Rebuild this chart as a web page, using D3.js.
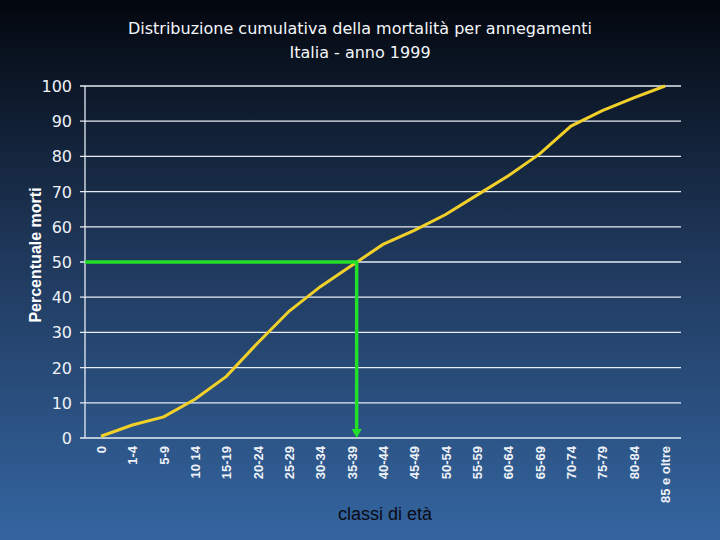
<!DOCTYPE html>
<html><head><meta charset="utf-8">
<script src="https://cdn.jsdelivr.net/npm/d3@7"></script>
<style>body{margin:0}svg{display:block}</style>
</head><body><svg width="720" height="540"></svg>
<script>
const categories = ["0","1-4","5-9","10 14","15-19","20-24","25-29","30-34","35-39","40-44","45-49","50-54","55-59","60-64","65-69","70-74","75-79","80-84","85 e oltre"];
const values = [0.5,3.7,6,11,17.5,27,36,43,49,55,59,63.5,69,74.5,80.7,88.6,93,96.6,100];
const yTicks = [0,10,20,30,40,50,60,70,80,90,100];
const median = 50, medianCat = "35-39";

const svg = d3.select("svg");
const defs = svg.append("defs");
const grad = defs.append("linearGradient").attr("id","bg").attr("x1",0).attr("y1",0).attr("x2",0).attr("y2",1);
grad.append("stop").attr("offset","0%").attr("stop-color","#03070e");
grad.append("stop").attr("offset","45%").attr("stop-color","#1e3658");
grad.append("stop").attr("offset","100%").attr("stop-color","#3465a0");
svg.append("rect").attr("width",720).attr("height",540).attr("fill","url(#bg)");

const L = 85, R = 681, T = 86, B = 438;
const x = d3.scalePoint().domain(categories).range([101, 665]);
const y = d3.scaleLinear().domain([0,100]).range([B, T]);

const font = "Verdana, 'DejaVu Sans', sans-serif";

svg.append("g").selectAll("line").data(yTicks).join("line")
  .attr("x1", 80).attr("x2", R).attr("y1", d=>y(d)).attr("y2", d=>y(d))
  .attr("stroke","#e6ecf4").attr("stroke-width",1.3);
svg.append("line").attr("x1",L).attr("x2",L).attr("y1",T).attr("y2",B).attr("stroke","#e6ecf4").attr("stroke-width",1.3);
svg.append("g").selectAll("text").data(yTicks).join("text")
  .attr("x",72).attr("y",d=>y(d)+6).attr("text-anchor","end")
  .attr("fill","#eef2f8").attr("font-family",font).attr("font-size",16).text(d=>d);

svg.append("g").selectAll("text").data(categories).join("text")
  .attr("transform", d=>`translate(${x(d)+5},${446}) rotate(-90)`)
  .attr("text-anchor","end")
  .attr("fill","#eef2f8").attr("font-family","Arial, 'Liberation Sans', sans-serif")
  .attr("font-weight","bold").attr("font-size",13).text(d=>d);

svg.append("path").datum(values)
  .attr("d", d3.line().x((d,i)=>x(categories[i])).y(d=>y(d)))
  .attr("fill","none").attr("stroke","#f2d02a").attr("stroke-width",3);

const mx = x(medianCat) + 5;
svg.append("path").attr("d",`M${L},${y(median)}H${mx}V${B-8}`)
  .attr("fill","none").attr("stroke","#22e02a").attr("stroke-width",3.5);
svg.append("path").attr("d",`M${mx-5},${B-9}L${mx+5},${B-9}L${mx},${B}Z`).attr("fill","#22e02a");

svg.append("text").attr("x",360).attr("y",34).attr("text-anchor","middle")
  .attr("fill","#f4f6fa").attr("font-family",font).attr("font-size",16)
  .text("Distribuzione cumulativa della mortalità per annegamenti");
svg.append("text").attr("x",360).attr("y",58).attr("text-anchor","middle")
  .attr("fill","#f4f6fa").attr("font-family",font).attr("font-size",16)
  .text("Italia - anno 1999");
svg.append("text").attr("transform","translate(41,255) rotate(-90)").attr("text-anchor","middle")
  .attr("fill","#ffffff").attr("font-family","Arial, 'Liberation Sans', sans-serif")
  .attr("font-weight","bold").attr("font-size",16).text("Percentuale morti");
svg.append("text").attr("x",385).attr("y",520).attr("text-anchor","middle")
  .attr("fill","#0a0a14").attr("font-family","Arial, 'Liberation Sans', sans-serif")
  .attr("font-size",18).text("classi di età");
</script></body></html>
